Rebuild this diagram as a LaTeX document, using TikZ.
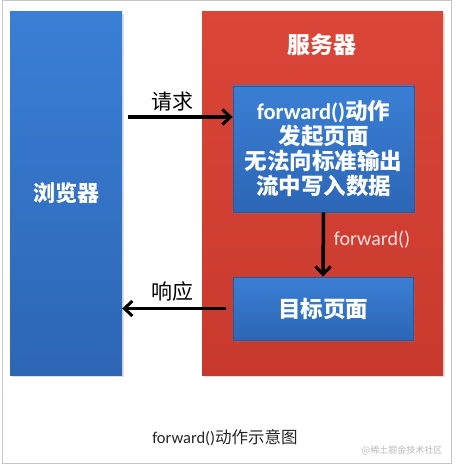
\documentclass[tikz,border=0pt]{standalone}
\usepackage{fontspec}
\setmainfont{Noto Sans CJK SC}
\newfontfamily\latinfont{Carlito}
\usetikzlibrary{arrows.meta, positioning, shadows}

\definecolor{boxblue}{HTML}{3A7FD5}
\definecolor{boxbluedark}{HTML}{2D66B5}
\definecolor{srvred}{HTML}{DA4638}
\definecolor{srvreddark}{HTML}{C8392D}
\definecolor{edgeblue}{HTML}{2A5A9E}
\newcommand{\fwd}{{\latinfont forward()}}

\begin{document}
\begin{tikzpicture}[
    x=1pt, y=-1pt,
    panel/.style={rectangle, inner sep=0pt, text=white, font=\fontsize{22}{25}\selectfont\bfseries,
        drop shadow={opacity=0.25, shadow xshift=2pt, shadow yshift=-2pt}},
    page/.style={panel, draw=edgeblue, line width=0.8pt, top color=boxblue, bottom color=boxbluedark,
        align=center, font=\fontsize{22.5}{25}\selectfont\bfseries},
    arrow/.style={-{Straight Barb[length=8pt, width=15pt, line width=3pt]}, line width=3.5pt, black},
    tag/.style={font=\fontsize{21}{24}\selectfont, text=black}
]
\useasboundingbox (0,0) rectangle (456,465);
\draw[gray!45, line width=1pt] (2,1) rectangle (451,463);

% Browser and server
\node[panel, top color=boxblue, bottom color=boxbluedark, minimum width=112pt, minimum height=363pt] (browser) at (66,193.5) {浏览器};
\node[panel, top color=srvred, bottom color=srvreddark, minimum width=241pt, minimum height=363pt] (server) at (322.5,193.5) {};
\node[text=white, font=\fontsize{23}{25}\selectfont\bfseries] (servertitle) at (322,45) {服务器};

% Pages inside the server
\node[page, minimum width=181pt, minimum height=126pt] (source) at (323.5,149) {\fwd 动作\\发起页面\\无法向标准输出\\流中写入数据};
\node[page, minimum width=180pt, minimum height=63pt] (target) at (323,308.5) {目标页面};

% Arrows
\coordinate (req) at (128,117);
\draw[arrow] (req) -- (source.west |- req);
\draw[arrow] (source.south) -- (target.north);
\draw[arrow] ([xshift=-7pt]target.west) -- (browser.east |- target.west);

% Labels
\node[tag] (reqlabel) at (172,102) {请求};
\node[tag] (resplabel) at (172,292) {响应};
\node[font=\fontsize{20}{22}\selectfont, text=red!12!white] (fwdlabel) at (372,240) {\fwd};

% Caption
\node[font=\fontsize{16.5}{20}\selectfont, text=black!85] (caption) at (225,438) {\fwd 动作示意图};
\node[font=\fontsize{9}{11}\selectfont, text=gray!55] (mark) at (402,450) {@稀土掘金技术社区};
\end{tikzpicture}
\end{document}
